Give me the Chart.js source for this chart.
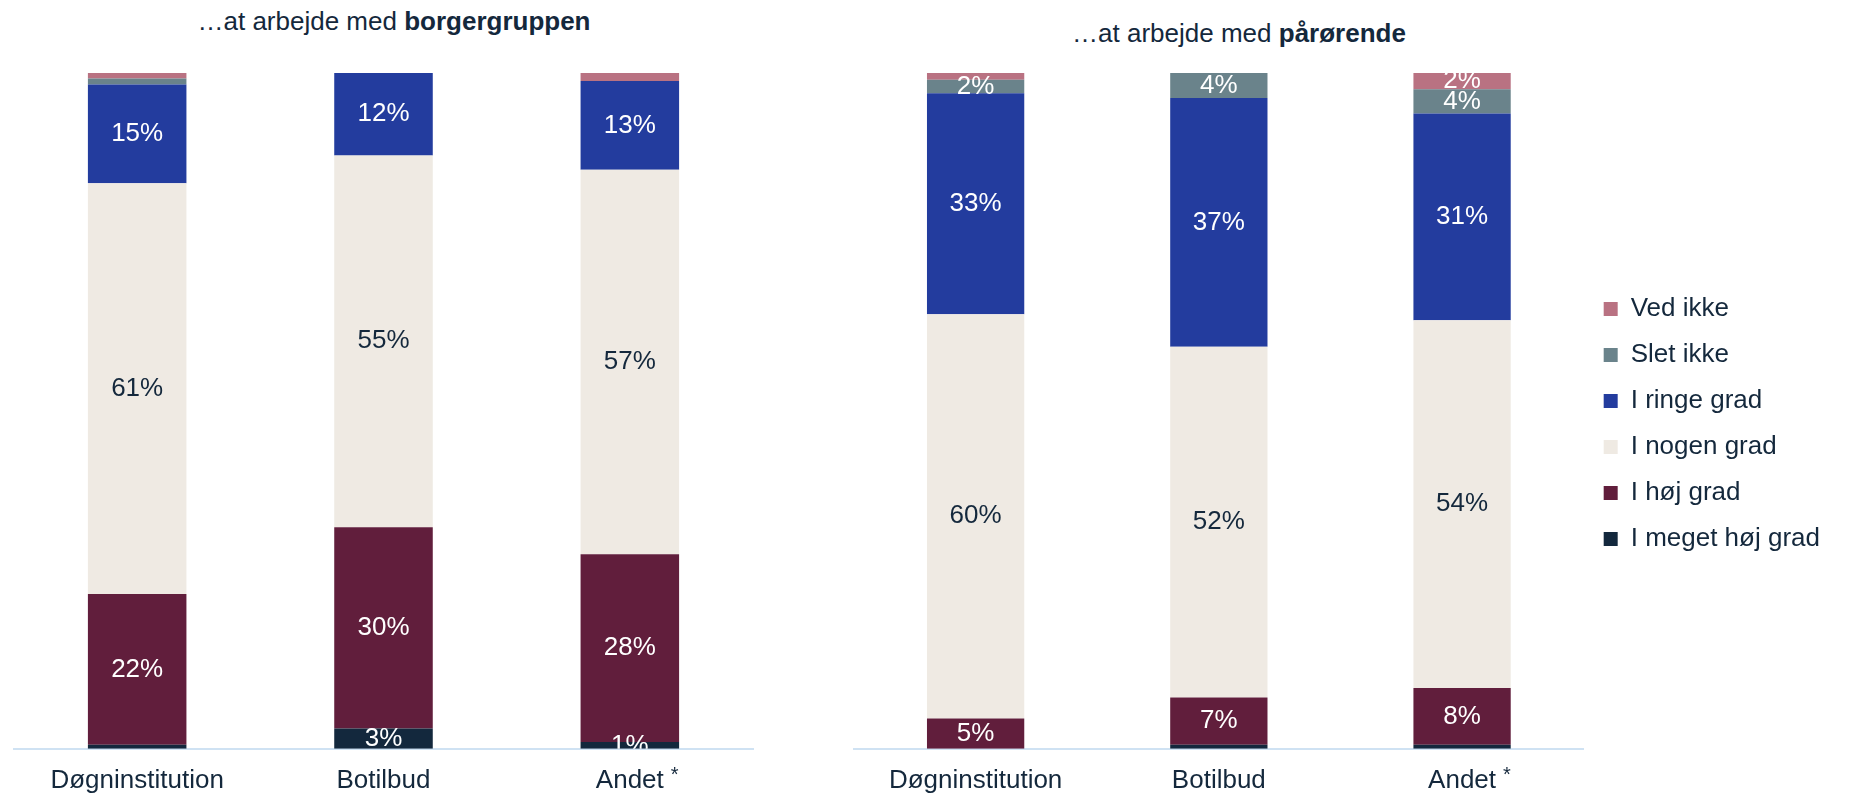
<!DOCTYPE html>
<html>
<head>
<meta charset="utf-8">
<script src="https://cdn.jsdelivr.net/npm/chart.js@4/dist/chart.umd.min.js"></script>
<style>
  body { margin: 0; background: #fff; width: 1850px; height: 796px; overflow: hidden; position: relative; }
  .title { position: absolute; transform: translateX(-50%); white-space: nowrap;
           font: 26px 'Liberation Sans', Arial, sans-serif; line-height: 30px; color: #14283C; }
  .box { position: absolute; top: 0; height: 812px; }
</style>
</head>
<body>
<div class="title" style="left:394px; top:6px;">…at arbejde med <b>borgergruppen</b></div>
<div class="title" style="left:1239px; top:18px;">…at arbejde med <b>pårørende</b></div>
<div class="box" style="left:0; width:800px;"><canvas id="chartBorger"></canvas></div>
<div class="box" style="left:840px; width:1010px;"><canvas id="chartPaar"></canvas></div>
<script>
const categories = ['Døgninstitution', 'Botilbud', 'Andet'];
const footMarks = ['', '', '*'];
const seriesNames = ['I meget høj grad', 'I høj grad', 'I nogen grad', 'I ringe grad', 'Slet ikke', 'Ved ikke'];
const seriesColors = ['#13283D', '#611E3C', '#EFEAE3', '#233C9E', '#6A838B', '#B97282'];
const labelColors = ['#ffffff', '#ffffff', '#14283C', '#ffffff', '#ffffff', '#ffffff'];

// ...at arbejde med borgergruppen (%)
const borgerMegetHoej = [0.6, 3.0, 1.0];
const borgerHoej = [22.3, 29.8, 27.8];
const borgerNogen = [60.8, 55.0, 56.9];
const borgerRinge = [14.6, 12.2, 13.1];
const borgerSlet = [0.9, 0, 0];
const borgerVed = [0.8, 0, 1.2];

// ...at arbejde med pårørende (%)
const paarMegetHoej = [0, 0.6, 0.6];
const paarHoej = [4.5, 7.0, 8.4];
const paarNogen = [59.8, 51.9, 54.4];
const paarRinge = [32.7, 36.8, 30.6];
const paarSlet = [2.0, 3.7, 3.6];
const paarVed = [1.0, 0, 2.4];

const textColor = '#14283C';
const fontFamily = "'Liberation Sans', Arial, sans-serif";
const tickPadding = 16;
Chart.defaults.font.family = fontFamily;
Chart.defaults.color = textColor;

function makeDatasets(series) {
    return series.map((values, i) => ({
        label: seriesNames[i],
        data: values,
        backgroundColor: seriesColors[i],
        borderWidth: 0,
        barPercentage: 0.4,
        categoryPercentage: 1.0
    }));
}

// percentage labels in the middle of each segment, clipped to the plot
const segmentLabels = {
    id: 'segmentLabels',
    afterDatasetsDraw(chart) {
        const ctx = chart.ctx;
        const area = chart.chartArea;
        ctx.save();
        ctx.beginPath();
        ctx.rect(area.left, area.top, area.right - area.left, area.bottom - area.top);
        ctx.clip();
        ctx.font = '26px ' + fontFamily;
        ctx.textAlign = 'center';
        ctx.textBaseline = 'middle';
        chart.data.datasets.forEach((ds, i) => {
            const meta = chart.getDatasetMeta(i);
            meta.data.forEach((bar, j) => {
                const v = ds.data[j];
                // small segments stay unlabelled, except the bottom one
                if (v < 1.5 && !(i === 0 && v >= 1)) return;
                ctx.fillStyle = labelColors[i];
                ctx.fillText(Math.round(v) + '%', bar.x, (bar.y + bar.base) / 2);
            });
        });
        ctx.restore();
    }
};

// raised footnote mark after a category label
const footnotes = {
    id: 'footnotes',
    afterDraw(chart) {
        const sc = chart.scales.x;
        const ctx = chart.ctx;
        ctx.save();
        categories.forEach((c, i) => {
            if (!footMarks[i]) return;
            ctx.font = '26px ' + fontFamily;
            const w = ctx.measureText(c).width;
            ctx.font = '20px ' + fontFamily;
            ctx.fillStyle = textColor;
            ctx.textAlign = 'left';
            ctx.textBaseline = 'alphabetic';
            ctx.fillText(footMarks[i], sc.getPixelForTick(i) + w / 2 + 7, sc.top + 32);
        });
        ctx.restore();
    }
};

function makeChart(id, series, withLegend, padding) {
    return new Chart(document.getElementById(id), {
        type: 'bar',
        data: { labels: categories, datasets: makeDatasets(series) },
        options: {
            responsive: true,
            maintainAspectRatio: false,
            animation: false,
            layout: { padding: padding },
            plugins: {
                title: { display: false },
                tooltip: { enabled: false },
                legend: {
                    display: withLegend,
                    position: 'right',
                    fullSize: false,
                    reverse: true,
                    title: { display: true, text: '', font: { size: 10, lineHeight: 1 }, padding: { top: 16, bottom: 0 } },
                    labels: {
                        boxWidth: 14,
                        boxHeight: 14,
                        padding: 20,
                        color: textColor,
                        font: { size: 26 }
                    }
                }
            },
            scales: {
                x: {
                    stacked: true,
                    grid: { display: false, drawTicks: false },
                    border: { display: true, color: '#CFE2F3', width: 2 },
                    ticks: { padding: tickPadding, color: textColor, font: { size: 26 } }
                },
                y: {
                    stacked: true,
                    display: false,
                    min: 0,
                    max: 100
                }
            }
        },
        plugins: [segmentLabels, footnotes]
    });
}

makeChart('chartBorger',
    [borgerMegetHoej, borgerHoej, borgerNogen, borgerRinge, borgerSlet, borgerVed],
    false, { left: 14, right: 47, top: 73, bottom: 0 });

makeChart('chartPaar',
    [paarMegetHoej, paarHoej, paarNogen, paarRinge, paarSlet, paarVed],
    true, { left: 14, right: 20, top: 73, bottom: 0 });
</script>
</body>
</html>
